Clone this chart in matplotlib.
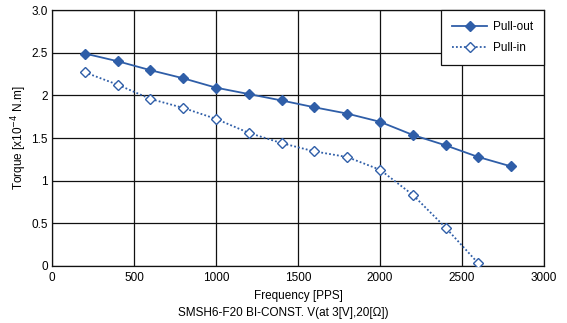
import numpy as np
import matplotlib.pyplot as plt

plt.rcParams['font.family'] = ['Liberation Sans', 'DejaVu Sans']

# torque curves (x10^-4 N.m) vs pulse rate
freq_out = [200, 400, 600, 800, 1000, 1200, 1400, 1600, 1800, 2000, 2200, 2400, 2600, 2800]
pull_out = [2.49, 2.40, 2.295, 2.20, 2.09, 2.015, 1.94, 1.86, 1.786, 1.69, 1.536, 1.414, 1.277, 1.167]
freq_in = [200, 400, 600, 800, 1000, 1200, 1400, 1600, 1800, 2000, 2200, 2400, 2600]
pull_in = [2.27, 2.125, 1.958, 1.853, 1.724, 1.56, 1.44, 1.343, 1.277, 1.128, 0.834, 0.45, 0.03]

yticks = [0, 0.5, 1, 1.5, 2, 2.5, 3.0]
ytick_labels = ['0', '0.5', '1', '1.5', '2', '2.5', '3.0']
xticks = [0, 500, 1000, 1500, 2000, 2500, 3000]

blue = '#2f5ea8'

fig = plt.figure(figsize=(5.67, 3.23), dpi=100)
ax = fig.add_axes([0.0917, 0.1765, 0.8677, 0.7925])

ax.plot(freq_out, pull_out, color=blue, lw=1.3, marker='D', ms=5.5,
        mfc=blue, mec=blue, label='Pull-out', zorder=3)
ax.plot(freq_in, pull_in, color=blue, lw=1.3, ls=(0, (1, 1.2)), marker='D', ms=5,
        mfc='white', mec=blue, mew=1.0, label='Pull-in', zorder=3)

ax.set_xlim(0, 3000)
ax.set_ylim(0, 3.0)
ax.set_xticks(xticks)
ax.set_yticks(yticks)
ax.set_yticklabels(ytick_labels)
ax.tick_params(length=0, labelsize=8.5, pad=3)
ax.tick_params(axis='x', pad=4)
ax.grid(True, color='#111111', lw=0.9)
for s in ax.spines.values():
    s.set_color('#111111')
    s.set_linewidth(0.9)

ax.set_xlabel('Frequency [PPS]', fontsize=8.5, labelpad=5)
ax.set_ylabel(r'Torque [x10$^{-4}$ N.m]', fontsize=8.5, labelpad=2)
fig.text(0.5, 0.022, 'SMSH6-F20 BI-CONST. V(at 3[V],20[\u03a9])', ha='center', fontsize=8.5)

leg = ax.legend(loc='upper right', fontsize=8.5, frameon=True, fancybox=False,
                borderaxespad=0, handlelength=3, borderpad=0.9, labelspacing=0.8,
                handletextpad=0.5)
leg.get_frame().set_edgecolor('#111111')
leg.get_frame().set_linewidth(0.9)
leg.get_frame().set_alpha(1)

fig.savefig('out.png', dpi=100)
